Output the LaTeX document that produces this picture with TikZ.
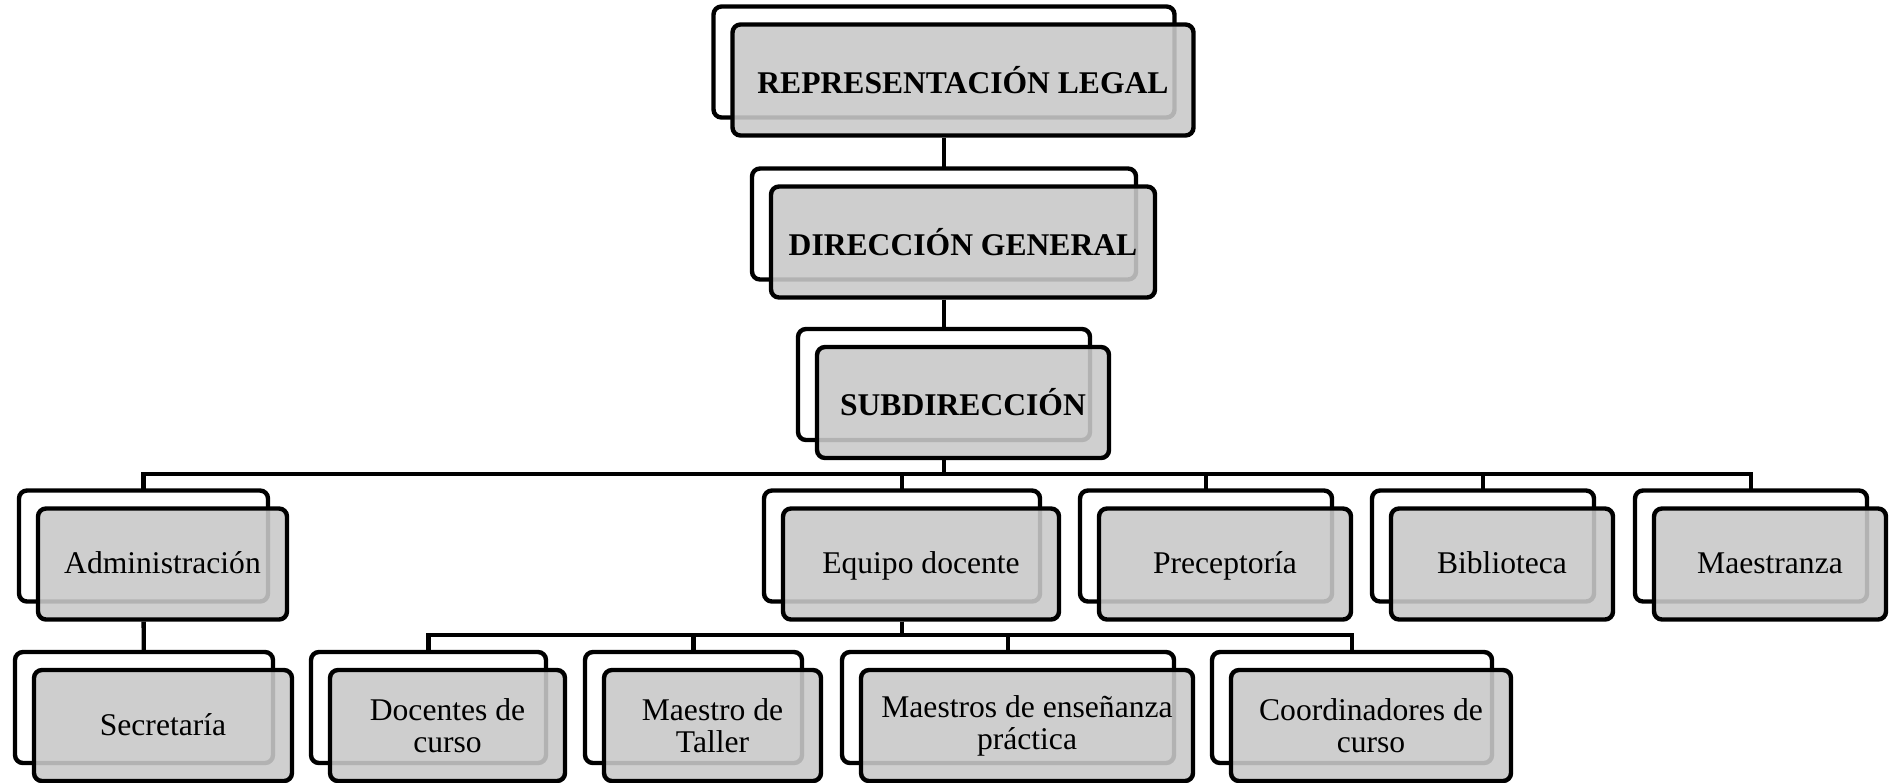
\documentclass[tikz,border=0pt]{standalone}
\usepackage{fontspec}
\setmainfont{Liberation Serif}
\usetikzlibrary{backgrounds}

\begin{document}
\begin{tikzpicture}[x=0.5pt, y=-0.5pt, line width=2.2pt,
    unit/.style={draw, rectangle, rounded corners=4pt, fill=black!21, fill opacity=0.89, text opacity=1,
        minimum height=55.5pt, inner sep=2pt, align=center, font=\fontsize{15.8}{16}\selectfont,
        preaction={draw, fill=white, fill opacity=1, transform canvas={shift={(-9.5pt,9pt)}}}},
    single/.style={unit, text height=12pt, text depth=2.5pt},
    head/.style={unit, font=\fontsize{15.8}{16}\selectfont\bfseries},
    link/.style={draw, line width=2.2pt, transform canvas={xshift=-9.5pt}}]
    \useasboundingbox (0,0) rectangle (1899,782);

    \node[head, minimum width=230.5pt] (rep) at (963,80) {REPRESENTACIÓN LEGAL};
    \node[head, minimum width=192pt] (dir) at (963,242) {DIRECCIÓN GENERAL};
    \node[head, minimum width=146pt] (sub) at (963,402.5) {SUBDIRECCIÓN};

    \node[single, minimum width=124.5pt] (adm) at (162.5,564) {Administración};
    \node[single, minimum width=138pt] (equ) at (921,564) {Equipo docente};
    \node[single, minimum width=126pt] (pre) at (1225,564) {Preceptoría};
    \node[single, minimum width=111pt] (bib) at (1502,564) {Biblioteca};
    \node[single, minimum width=116pt] (mae) at (1770,564) {Maestranza};

    \node[single, minimum width=129pt] (sec) at (163,725.5) {Secretaría};
    \node[unit, minimum width=117.5pt] (doc) at (447.5,725.5) {Docentes de\\curso};
    \node[unit, minimum width=108.5pt] (tal) at (712.5,725.5) {Maestro de\\Taller};
    \node[unit, minimum width=166pt] (ens) at (1027,725.5) {Maestros de enseñanza\\práctica};
    \node[unit, minimum width=140pt] (coo) at (1371,725.5) {Coordinadores de\\curso};

    \begin{scope}[on background layer]
        \path[link] (rep) -- (dir);
        \path[link] (dir) -- (sub);
        \foreach \n in {adm, equ, pre, bib, mae}
            \path[link] (sub) |- (\n |- 0,474) -- (\n);
        \path[link] (adm) -- (sec);
        \foreach \n in {doc, tal, ens, coo}
            \path[link] (equ) |- (\n |- 0,635) -- (\n);
    \end{scope}
\end{tikzpicture}
\end{document}
